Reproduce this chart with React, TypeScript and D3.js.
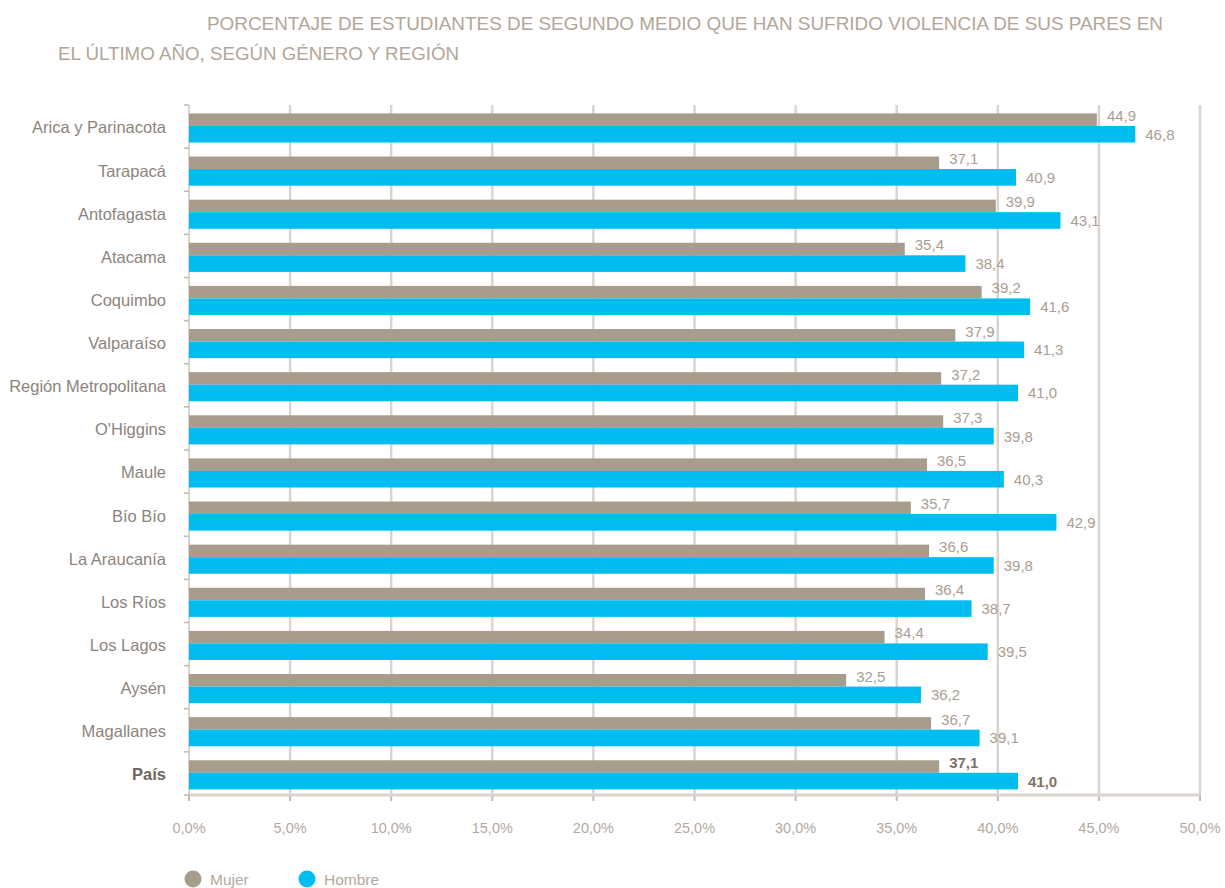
import React from "react";
import * as d3 from "d3";

const regions = [
  "Arica y Parinacota",
  "Tarapacá",
  "Antofagasta",
  "Atacama",
  "Coquimbo",
  "Valparaíso",
  "Región Metropolitana",
  "O'Higgins",
  "Maule",
  "Bío Bío",
  "La Araucanía",
  "Los Ríos",
  "Los Lagos",
  "Aysén",
  "Magallanes",
  "País",
];
const mujer = [44.9, 37.1, 39.9, 35.4, 39.2, 37.9, 37.2, 37.3, 36.5, 35.7, 36.6, 36.4, 34.4, 32.5, 36.7, 37.1];
const hombre = [46.8, 40.9, 43.1, 38.4, 41.6, 41.3, 41.0, 39.8, 40.3, 42.9, 39.8, 38.7, 39.5, 36.2, 39.1, 41.0];
const xTicks = [0, 5, 10, 15, 20, 25, 30, 35, 40, 45, 50];
const titleLines = [
  "PORCENTAJE DE ESTUDIANTES DE SEGUNDO MEDIO QUE HAN SUFRIDO VIOLENCIA DE SUS PARES EN",
  "EL ÚLTIMO AÑO, SEGÚN GÉNERO Y REGIÓN",
];
const legendItems = ["Mujer", "Hombre"];

const W = 1225;
const H = 888;
const C_MUJER = "#a89c8c";
const C_HOMBRE = "#00bdf0";
const C_GRID = "#dad4cc";
const C_TICK = "#c2b8ac";
const FONT = "'Liberation Sans', Arial, sans-serif";
const fmt = (v: number) => v.toFixed(1).replace(".", ",");

export default function App() {
  const x = d3.scaleLinear().domain([0, 50]).range([189, 1200]);
  const y = d3.scaleBand<string>().domain(regions).range([105, 795]);
  const step = y.step();
  const mTop = (r: string) => (y(r) as number) + step * 0.195;
  const mH = step * 0.29;
  const hTop = (r: string) => (y(r) as number) + step * 0.485;
  const hH = step * 0.385;
  const boundaries = d3.range(regions.length + 1).map((i) => 105 + i * step);
  const legendX = [193, 307];

  return (
    <svg width={W} height={H} style={{ position: "absolute", left: 0, top: 0, background: "#fff" }}>
      {/* title */}
      <text x={207} y={30} fontFamily={FONT} fontSize={18} fill="#b2a698" textLength={956} lengthAdjust="spacingAndGlyphs">
        {titleLines[0]}
      </text>
      <text x={58} y={60} fontFamily={FONT} fontSize={18} fill="#b2a698" textLength={401} lengthAdjust="spacingAndGlyphs">
        {titleLines[1]}
      </text>

      {/* gridlines */}
      {xTicks.slice(1).map((t) => (
        <g key={t}>
          <line x1={x(t)} x2={x(t)} y1={105} y2={795} stroke={C_GRID} strokeWidth={2.5} />
          <line x1={x(t)} x2={x(t)} y1={795} y2={801} stroke={C_TICK} strokeWidth={2} />
        </g>
      ))}
      {/* bottom axis */}
      <line x1={x(0)} x2={x(50)} y1={795} y2={795} stroke={C_GRID} strokeWidth={3} />
      <line x1={x(0)} x2={x(0)} y1={795} y2={801} stroke={C_TICK} strokeWidth={2} />
      {/* left axis */}
      <line x1={x(0)} x2={x(0)} y1={105} y2={795} stroke={C_GRID} strokeWidth={2} />
      {boundaries.map((b, i) => (
        <line key={i} x1={x(0) - 5} x2={x(0)} y1={b} y2={b} stroke={C_TICK} strokeWidth={1.5} />
      ))}

      {/* bars */}
      {regions.map((r, i) => (
        <g key={r}>
          <rect x={x(0)} y={mTop(r)} width={x(mujer[i]) - x(0)} height={mH} fill={C_MUJER} />
          <rect x={x(0)} y={hTop(r)} width={x(hombre[i]) - x(0)} height={hH} fill={C_HOMBRE} />
          <text
            x={x(mujer[i]) + 10}
            y={mTop(r) + 2}
            dominantBaseline="central"
            fontFamily={FONT}
            fontSize={15}
            fill={r === "País" ? "#7e7468" : "#a99e91"}
            fontWeight={r === "País" ? "bold" : "normal"}
          >
            {fmt(mujer[i])}
          </text>
          <text
            x={x(hombre[i]) + 10}
            y={hTop(r) + hH / 2}
            dominantBaseline="central"
            fontFamily={FONT}
            fontSize={15}
            fill={r === "País" ? "#7e7468" : "#a99e91"}
            fontWeight={r === "País" ? "bold" : "normal"}
          >
            {fmt(hombre[i])}
          </text>
          <text
            x={166}
            y={(y(r) as number) + step * 0.52}
            dominantBaseline="central"
            textAnchor="end"
            fontFamily={FONT}
            fontSize={16.5}
            fill={r === "País" ? "#6f665c" : "#8c847b"}
            fontWeight={r === "País" ? "bold" : "normal"}
          >
            {r}
          </text>
        </g>
      ))}

      {/* x tick labels */}
      {xTicks.map((t) => (
        <text key={t} x={x(t)} y={833} textAnchor="middle" fontFamily={FONT} fontSize={14.5} fill="#b3aa9f">
          {fmt(t)}%
        </text>
      ))}

      {/* legend */}
      {legendItems.map((l, i) => (
        <g key={l}>
          <circle cx={legendX[i]} cy={879} r={8.5} fill={i === 0 ? C_MUJER : C_HOMBRE} />
          <text x={legendX[i] + 17} y={885} fontFamily={FONT} fontSize={15.5} fill="#b3aa9f">
            {l}
          </text>
        </g>
      ))}
    </svg>
  );
}
